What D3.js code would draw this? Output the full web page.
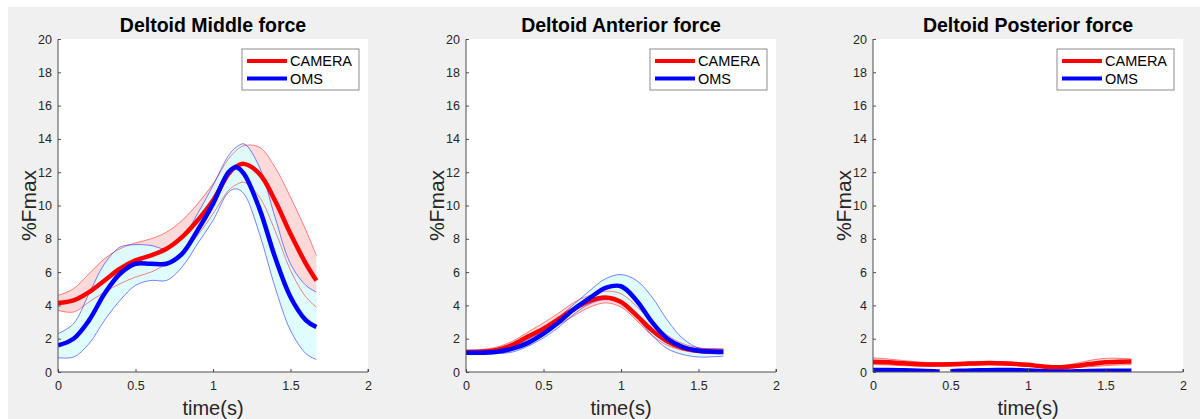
<!DOCTYPE html>
<html><head><meta charset="utf-8">
<script src="https://cdn.jsdelivr.net/npm/d3@7"></script>
<style>
html,body{margin:0;padding:0;background:#fff;}
svg{display:block;font-family:"Liberation Sans",Arial,Helvetica,sans-serif;}
</style></head>
<body><svg id="chart" width="1200" height="419"></svg>
<script>
// ---------- data ----------
const panelTitles = ["Deltoid Middle force", "Deltoid Anterior force", "Deltoid Posterior force"];
const seriesNames = ["CAMERA", "OMS"];
const yTicks = [0, 2, 4, 6, 8, 10, 12, 14, 16, 18, 20];
const xTicks = [0, 0.5, 1, 1.5, 2];

// Panel 1: Deltoid Middle
const timeMiddle      = [0, 0.1, 0.2, 0.3, 0.4, 0.5, 0.6, 0.7, 0.8, 0.9, 1.0, 1.1, 1.15, 1.2, 1.3, 1.4, 1.5, 1.6, 1.667];
const middleCamMean   = [4.14, 4.3, 4.8, 5.5, 6.2, 6.7, 7.0, 7.4, 8.1, 9.1, 10.3, 11.9, 12.35, 12.5, 11.9, 10.3, 8.3, 6.5, 5.5];
const middleCamUpper  = [4.6, 5.0, 5.9, 6.8, 7.4, 7.75, 8.0, 8.4, 9.1, 10.1, 11.3, 12.8, 13.3, 13.6, 13.5, 12.3, 10.5, 8.5, 7.0];
const middleCamLower  = [3.7, 3.6, 4.2, 4.8, 5.3, 5.7, 6.0, 6.5, 7.2, 8.2, 9.5, 10.9, 11.25, 11.4, 10.5, 8.5, 6.1, 4.5, 3.9];
const middleOmsMean   = [1.6, 2.0, 3.1, 4.7, 5.9, 6.5, 6.5, 6.5, 7.1, 8.5, 10.1, 12.0, 12.3, 11.9, 9.8, 6.9, 4.5, 3.1, 2.7];
const middleOmsUpper  = [2.3, 2.9, 4.7, 6.5, 7.5, 7.65, 7.6, 7.4, 8.0, 9.5, 11.2, 13.0, 13.5, 13.7, 12.3, 9.3, 6.5, 5.2, 4.8];
const middleOmsLower  = [0.86, 0.9, 1.7, 3.1, 4.3, 5.2, 5.5, 5.5, 6.3, 7.7, 9.1, 10.8, 11.0, 10.7, 8.3, 5.1, 2.5, 1.1, 0.75];

// Panel 2: Deltoid Anterior
const timeAnterior      = [0, 0.1, 0.2, 0.3, 0.4, 0.5, 0.6, 0.7, 0.8, 0.9, 1.0, 1.1, 1.2, 1.3, 1.4, 1.5, 1.6, 1.66];
const anteriorCamMean   = [1.2, 1.22, 1.33, 1.63, 2.13, 2.6, 3.2, 3.8, 4.27, 4.47, 4.2, 3.4, 2.5, 1.83, 1.43, 1.27, 1.23, 1.22];
const anteriorCamUpper  = [1.3, 1.35, 1.5, 1.85, 2.4, 2.95, 3.55, 4.2, 4.6, 4.85, 4.7, 3.95, 3.0, 2.2, 1.7, 1.45, 1.37, 1.35];
const anteriorCamLower  = [1.1, 1.12, 1.2, 1.45, 1.85, 2.3, 2.85, 3.4, 3.9, 4.15, 3.9, 3.1, 2.2, 1.6, 1.3, 1.15, 1.1, 1.1];
const anteriorOmsMean   = [1.15, 1.16, 1.22, 1.4, 1.75, 2.3, 3.0, 3.8, 4.45, 5.05, 5.15, 4.3, 3.0, 2.0, 1.5, 1.28, 1.22, 1.2];
const anteriorOmsUpper  = [1.3, 1.32, 1.38, 1.55, 1.95, 2.5, 3.3, 4.1, 4.9, 5.6, 5.85, 5.5, 4.5, 3.1, 2.0, 1.45, 1.4, 1.4];
const anteriorOmsLower  = [1.05, 1.05, 1.1, 1.2, 1.55, 2.05, 2.7, 3.5, 4.1, 4.35, 4.15, 3.3, 2.2, 1.4, 1.05, 0.9, 0.92, 0.95];

// Panel 3: Deltoid Posterior
const timePosterior      = [0, 0.1, 0.2, 0.3, 0.4, 0.43, 0.45, 0.5, 0.6, 0.7, 0.8, 0.9, 1.0, 1.1, 1.2, 1.3, 1.4, 1.5, 1.6, 1.667];
const posteriorCamMean   = [0.62, 0.58, 0.52, 0.47, 0.45, 0.45, 0.45, 0.46, 0.5, 0.53, 0.53, 0.5, 0.43, 0.33, 0.28, 0.36, 0.48, 0.58, 0.62, 0.63];
const posteriorCamUpper  = [0.85, 0.78, 0.68, 0.6, 0.56, 0.56, 0.56, 0.56, 0.6, 0.63, 0.63, 0.58, 0.5, 0.4, 0.36, 0.5, 0.7, 0.82, 0.82, 0.78];
const posteriorCamLower  = [0.45, 0.42, 0.38, 0.35, 0.34, 0.34, 0.345, 0.35, 0.4, 0.43, 0.43, 0.4, 0.34, 0.25, 0.2, 0.25, 0.32, 0.38, 0.43, 0.45];
const posteriorOmsMean   = [0.12, 0.12, 0.1, 0.07, 0.04, 0.03, null, 0.05, 0.08, 0.1, 0.12, 0.12, 0.09, 0.05, 0.03, 0.04, 0.06, 0.07, 0.08, 0.08];

// ---------- layout ----------
const W = 1200, H = 419;
const axLefts = [58, 466, 873];
const axW = 310, axTop = 39, axBottom = 372;
const colCam = "#ff0000", colOms = "#0000ff";

const panels = [
  {title: panelTitles[0], t: timeMiddle, cam: [middleCamMean, middleCamUpper, middleCamLower], oms: [middleOmsMean, middleOmsUpper, middleOmsLower]},
  {title: panelTitles[1], t: timeAnterior, cam: [anteriorCamMean, anteriorCamUpper, anteriorCamLower], oms: [anteriorOmsMean, anteriorOmsUpper, anteriorOmsLower]},
  {title: panelTitles[2], t: timePosterior, cam: [posteriorCamMean, posteriorCamUpper, posteriorCamLower], oms: [posteriorOmsMean, null, null]}
];

const svg = d3.select("#chart");
svg.append("rect").attr("x", 0).attr("y", 0).attr("width", W).attr("height", H).attr("fill", "#ffffff");
svg.append("rect").attr("x", 8).attr("y", 7).attr("width", W - 8).attr("height", H - 7).attr("fill", "#f0f0f0");

panels.forEach((p, i) => {
  const x = d3.scaleLinear().domain([0, 2]).range([axLefts[i], axLefts[i] + axW]);
  const y = d3.scaleLinear().domain([0, 20]).range([axBottom, axTop]);
  const g = svg.append("g");

  g.append("rect").attr("x", x(0)).attr("y", y(20)).attr("width", axW).attr("height", axBottom - axTop).attr("fill", "#fff");

  const clipId = "clip" + i;
  g.append("clipPath").attr("id", clipId).append("rect")
    .attr("x", x(0)).attr("y", y(20)).attr("width", axW).attr("height", axBottom - axTop);
  const plot = g.append("g").attr("clip-path", `url(#${clipId})`);

  const curve = d3.curveCatmullRom.alpha(0.5);
  const lineOf = arr => d3.line().defined((d, k) => arr[k] != null).x((d, k) => x(p.t[k])).y((d, k) => y(arr[k])).curve(curve)(arr);
  const areaOf = (up, lo) => d3.area().x((d, k) => x(p.t[k])).y0((d, k) => y(lo[k])).y1((d, k) => y(up[k])).curve(curve)(up);

  // fills
  if (p.cam[1]) plot.append("path").attr("d", areaOf(p.cam[1], p.cam[2])).attr("fill", "#fcdada").attr("stroke", "none");
  if (p.oms[1]) plot.append("path").attr("d", areaOf(p.oms[1], p.oms[2])).attr("fill", "#dcfdfd").attr("fill-opacity", 0.92).attr("stroke", "none");
  // band edges
  [[p.cam, colCam], [p.oms, colOms]].forEach(([s, c]) => {
    [s[1], s[2]].forEach(arr => {
      if (!arr) return;
      plot.append("path").attr("d", lineOf(arr)).attr("fill", "none").attr("stroke", c).attr("stroke-opacity", 0.55).attr("stroke-width", 0.9);
    });
  });
  // means
  plot.append("path").attr("d", lineOf(p.cam[0])).attr("fill", "none").attr("stroke", colCam).attr("stroke-width", 4.5);
  plot.append("path").attr("d", lineOf(p.oms[0])).attr("fill", "none").attr("stroke", colOms).attr("stroke-width", 4.5);

  // axes
  const axColor = "#4d4d4d";
  const xAxis = g.append("g").attr("transform", `translate(0,${axBottom})`)
    .call(d3.axisBottom(x).tickValues(xTicks).tickSize(-3).tickPadding(9).tickFormat(d3.format("~g")));
  const yAxis = g.append("g").attr("transform", `translate(${x(0)},0)`)
    .call(d3.axisLeft(y).tickValues(yTicks).tickSize(-3).tickPadding(6).tickFormat(d3.format("~g")));
  [xAxis, yAxis].forEach(a => {
    a.select(".domain").attr("stroke", axColor).attr("stroke-width", 1);
    a.selectAll(".tick line").attr("stroke", axColor);
    a.selectAll(".tick text").attr("fill", "#262626").style("font-size", "12.5px").style("font-family", "'Liberation Sans', Arial, sans-serif");
  });
  // MATLAB-like domain: no outer ticks beyond
  xAxis.select(".domain").attr("d", `M${x(0)},0H${x(2)}V-3`);
  yAxis.select(".domain").attr("d", `M0,${y(0)}V${y(20)}`);

  // title
  g.append("text").attr("x", (x(0) + x(2)) / 2).attr("y", 32).attr("text-anchor", "middle")
    .style("font-size", "19.5px").style("font-weight", "bold").attr("fill", "#000").text(p.title);
  // y label
  g.append("text").attr("transform", `translate(${x(0) - 22},${(axTop + axBottom) / 2}) rotate(-90)`)
    .attr("text-anchor", "middle").style("font-size", "21px").attr("fill", "#262626").text("%Fmax");
  // x label
  g.append("text").attr("x", (x(0) + x(2)) / 2).attr("y", 415).attr("text-anchor", "middle")
    .style("font-size", "20px").attr("fill", "#262626").text("time(s)");

  // legend
  const lw = 117, lh = 41, lx = x(2) - 9 - lw, ly = 49;
  const lg = g.append("g");
  lg.append("rect").attr("x", lx).attr("y", ly).attr("width", lw).attr("height", lh).attr("fill", "#fff").attr("stroke", "#8c8c8c").attr("stroke-width", 1);
  [colCam, colOms].forEach((c, k) => {
    const yy = ly + 12 + k * 17.5;
    lg.append("line").attr("x1", lx + 5).attr("x2", lx + 45).attr("y1", yy).attr("y2", yy).attr("stroke", c).attr("stroke-width", 4);
    lg.append("text").attr("x", lx + 48).attr("y", yy + 5).style("font-size", "14.5px").attr("fill", "#000").text(seriesNames[k]);
  });
});
</script></body></html>
